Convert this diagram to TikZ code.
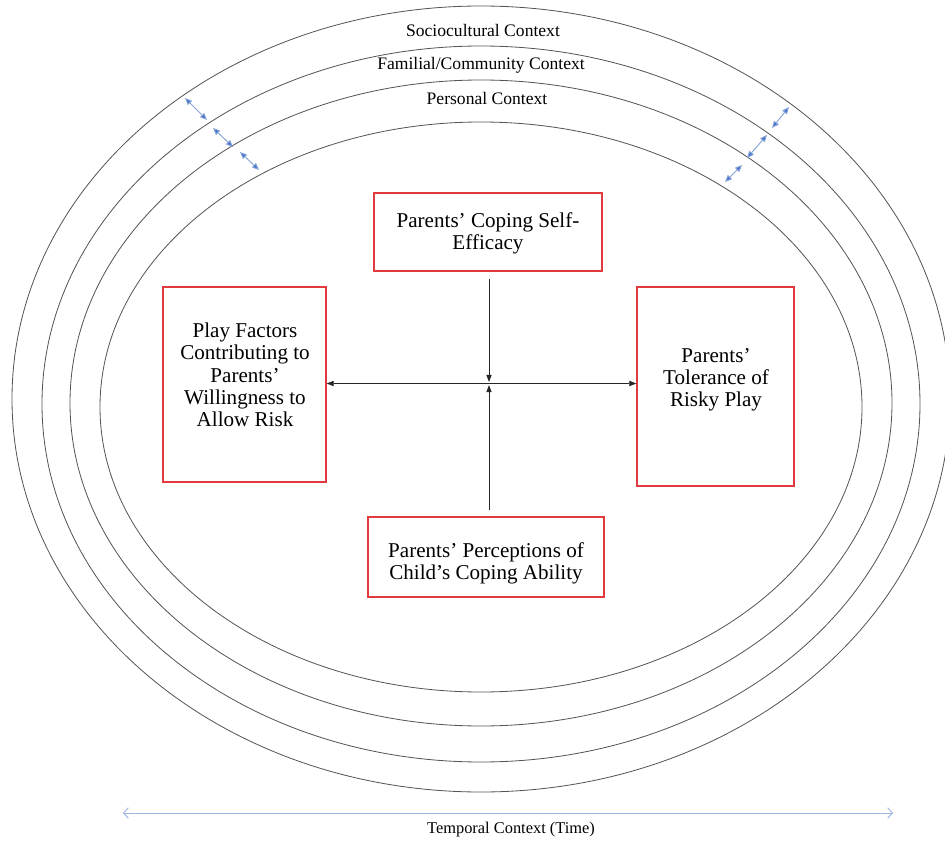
\documentclass[tikz,border=0pt]{standalone}
\usepackage{fontspec}
\setmainfont{Liberation Serif}
\usetikzlibrary{arrows.meta,positioning}
\definecolor{MyRed}{HTML}{E0393E}
\definecolor{MyBlue}{HTML}{4472C4}
\definecolor{MyLightBlue}{HTML}{9DB3DE}
\definecolor{MyGrey}{HTML}{555555}

\begin{document}
\begin{tikzpicture}[x=0.03cm,y=0.03cm,
		every node/.style={align=center,font=\fontsize{18}{19}\selectfont},
		context/.style={draw=MyGrey,line width=0.7pt},
		ctxtext/.style={font=\fontsize{15}{17}\selectfont},
		factor/.style={draw=MyRed,line width=1.2pt,rectangle,inner sep=0pt},
		link/.style={black!85,line width=0.6pt},
		ring/.style={MyBlue!65,line width=0.8pt,
			{Triangle[length=6pt,width=5pt,fill=MyBlue]}-{Triangle[length=6pt,width=5pt,fill=MyBlue]}},
		time/.style={MyLightBlue,line width=0.8pt,
			{Straight Barb[length=4pt,width=9pt]}-{Straight Barb[length=4pt,width=9pt]}},
	]
	\useasboundingbox (0,0) rectangle (945,-845);

	% nested contexts
	\draw[context] (481,-399) ellipse [x radius=469, y radius=393];
	\draw[context] (481,-404) ellipse [x radius=439, y radius=358];
	\draw[context] (481,-403) ellipse [x radius=411, y radius=323];
	\draw[context] (481,-407) ellipse [x radius=381, y radius=285];

	\node (socio) [ctxtext] at (483,-30) {Sociocultural Context};
	\node (family) [ctxtext] at (481,-65) {Familial/Community Context};
	\node (personal) [ctxtext] at (487,-98) {Personal Context};

	% blue double arrows between the rings
	\coordinate (la1) at (185,-98);  \coordinate (lb1) at (207,-120);
	\coordinate (la2) at (213,-128); \coordinate (lb2) at (233,-147);
	\coordinate (la3) at (240,-152); \coordinate (lb3) at (259,-170);
	\coordinate (ra1) at (789,-107); \coordinate (rb1) at (772,-128);
	\coordinate (ra2) at (767,-135); \coordinate (rb2) at (747,-158);
	\coordinate (ra3) at (742,-165); \coordinate (rb3) at (725,-182);
	\draw[ring] (la1) -- (lb1);
	\draw[ring] (la2) -- (lb2);
	\draw[ring] (la3) -- (lb3);
	\draw[ring] (ra1) -- (rb1);
	\draw[ring] (ra2) -- (rb2);
	\draw[ring] (ra3) -- (rb3);

	% factors
	\node (coping) [factor,minimum width=6.84cm,minimum height=2.34cm] at (488,-232) {};
	\node (copingtext) at (488,-233) {Parents' Coping Self-\\Efficacy};
	\node (play) [factor,minimum width=4.89cm,minimum height=5.85cm] at (244.5,-384.5) {};
	\node (playtext) at (245,-375) {Play Factors\\Contributing to\\Parents'\\Willingness to\\Allow Risk};
	\node (tolerance) [factor,minimum width=4.71cm,minimum height=5.97cm] at (715.5,-386.5) {};
	\node (tolerancetext) at (716,-380) {Parents'\\Tolerance of\\Risky Play};
	\node (perception) [factor,minimum width=7.08cm,minimum height=2.4cm] at (486,-557) {};
	\node (perceptiontext) at (486,-563) {Parents' Perceptions of\\Child's Coping Ability};

	\coordinate (hub) at (489,-383.5);
	\draw[link,{Triangle[length=6pt,width=4.5pt]}-{Triangle[length=6pt,width=4.5pt]}] (play.east |- hub) -- (tolerance.west |- hub);
	\draw[link,-{Triangle[length=6pt,width=4.5pt]},shorten <=0.21cm] (coping.south -| hub) -- ([yshift=0.05cm]hub);
	\draw[link,-{Triangle[length=6pt,width=4.5pt]},shorten <=0.2cm] (perception.north -| hub) -- ([yshift=-0.05cm]hub);

	% time
	\coordinate (past) at (123,-813);
	\coordinate (future) at (893,-813);
	\draw[time] (past) -- (future);
	\node (temporal) [font=\fontsize{14}{16}\selectfont] at (511,-830) {Temporal Context (Time)};
\end{tikzpicture}
\end{document}
